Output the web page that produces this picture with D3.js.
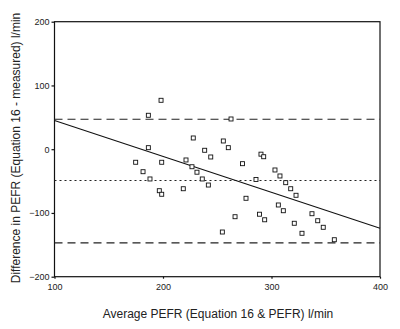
<!DOCTYPE html>
<html><head><meta charset="utf-8">
<script src="https://cdn.jsdelivr.net/npm/d3@7"></script>
<style>body{margin:0;background:#fff}svg{display:block}</style>
</head><body>
<script>
const avgPEFR = [186.5,198.2,262.7,186.5,174.8,181.6,188,198.8,196.6,198.8,218.7,227.9,221.2,226.7,231.3,236.2,238.4,241.8,244,255.6,260.2,273.3,285.7,276.5,290.3,292.8,266.4,254.7,288.9,293.7,303.2,307.8,313.1,317.7,322.6,306.3,310.9,337.3,342.6,347.7,321,328.1,357.9];
const diffPEFR = [53.2,76.7,47.4,2.4,-20.5,-35.3,-46.7,-20.5,-65.1,-70.7,-62,17.6,-16.9,-27.5,-36.1,-46.7,-1.7,-56.2,-12.2,12.9,2.4,-22.7,-47.5,-77,-7.8,-11.8,-105.9,-129.9,-102,-110.7,-32.6,-42,-52.5,-62,-72.3,-87.5,-96.5,-101.2,-112.2,-122.5,-116.2,-131.9,-142];
const xTicks = [100,200,300,400];
const yTicks = [-200,-100,0,100,200];
const meanDiff = [-49];
const limits = [47,-147];
const regression = [[100,45],[400,-124]];

const W=400,H=329;
const m={l:54.5,r:20,t:21.7,b:52.3};
const svg=d3.select("body").append("svg").attr("width",W).attr("height",H);
const x=d3.scaleLinear().domain([100,400]).range([m.l,W-m.r]);
const y=d3.scaleLinear().domain([-200,200]).range([H-m.b,m.t]);
const font="Liberation Sans, Arial, sans-serif";

// frame
svg.append("rect").attr("x",x(100)).attr("y",y(200)).attr("width",x(400)-x(100)).attr("height",y(-200)-y(200))
  .attr("fill","none").attr("stroke","#111").attr("stroke-width",1.2);

const xa=svg.append("g").attr("transform",`translate(0,${y(-200)})`)
  .call(d3.axisBottom(x).tickValues(xTicks).tickSize(2).tickPadding(5));
const ya=svg.append("g").attr("transform",`translate(${x(100)},0)`)
  .call(d3.axisLeft(y).tickValues(yTicks).tickSize(3).tickPadding(2));
[xa,ya].forEach(a=>{
  a.select(".domain").remove();
  a.selectAll("line").attr("stroke","#111").attr("stroke-width",1.2);
  a.selectAll("text").attr("font-family",font).attr("font-size",9).attr("fill","#222");
});

// limits of agreement
svg.selectAll(".lim").data(limits).enter().append("line")
  .attr("x1",x(100)).attr("x2",x(400)).attr("y1",d=>y(d)).attr("y2",d=>y(d))
  .attr("stroke","#222").attr("stroke-width",1.1).attr("stroke-dasharray","8,5");
svg.selectAll(".mean").data(meanDiff).enter().append("line")
  .attr("x1",x(100)).attr("x2",x(400)).attr("y1",d=>y(d)).attr("y2",d=>y(d))
  .attr("stroke","#222").attr("stroke-width",1.1).attr("stroke-dasharray","2,3");
svg.append("path").datum(regression)
  .attr("d",d3.line().x(d=>x(d[0])).y(d=>y(d[1])))
  .attr("stroke","#111").attr("stroke-width",1.1).attr("fill","none");

// points
const s=4;
svg.selectAll(".pt").data(avgPEFR.map((v,i)=>[v,diffPEFR[i]])).enter().append("rect")
  .attr("x",d=>x(d[0])-s/2).attr("y",d=>y(d[1])-s/2).attr("width",s).attr("height",s)
  .attr("fill","#fff").attr("stroke","#111").attr("stroke-width",0.9);

svg.append("text").attr("x",218).attr("y",318).attr("text-anchor","middle")
  .attr("font-family",font).attr("font-size",12).attr("fill","#222")
  .text("Average PEFR (Equation 16 & PEFR) l/min");
svg.append("text").attr("transform","translate(19.5,148) rotate(-90)").attr("text-anchor","middle")
  .attr("font-family",font).attr("font-size",12).attr("fill","#222")
  .text("Difference in PEFR (Equation 16 - measured) l/min");
</script>
</body></html>
